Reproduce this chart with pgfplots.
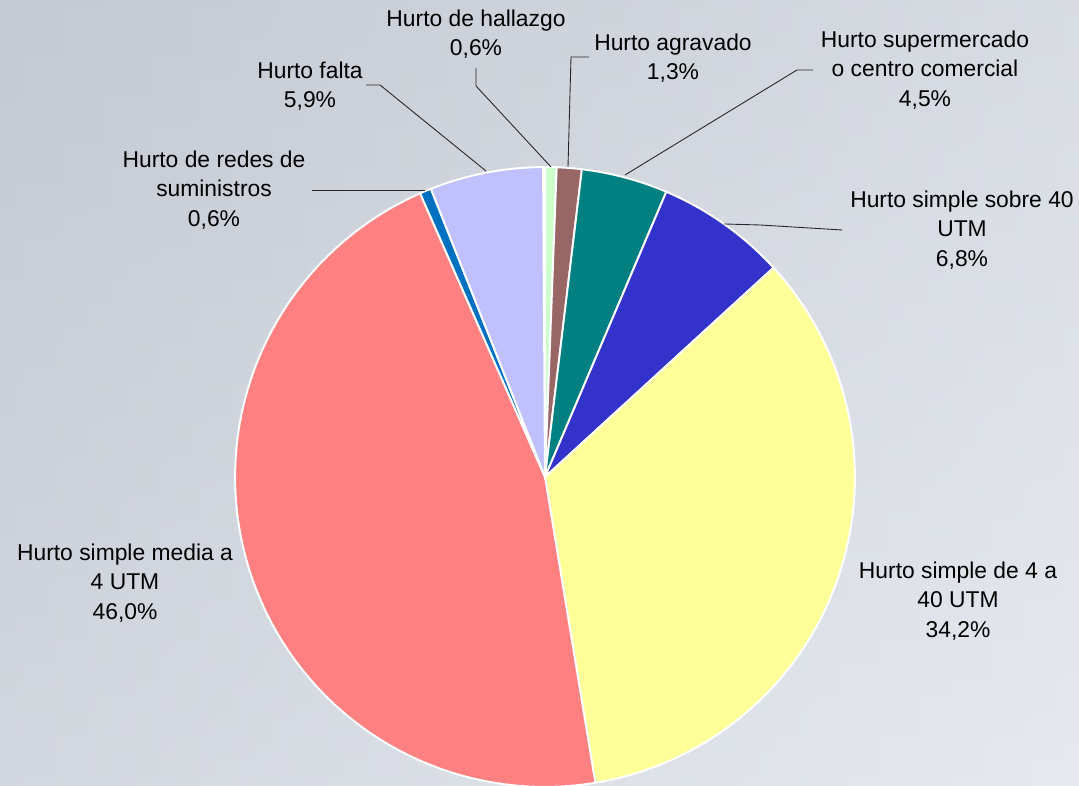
\documentclass[border=0pt]{standalone}
\usepackage{pgfplots}
\pgfplotsset{compat=1.18}
\usepackage{fontspec}
\setmainfont{Liberation Sans}

\definecolor{cHallazgo}{RGB}{204,255,204}
\definecolor{cAgravado}{RGB}{153,102,102}
\definecolor{cSuper}{RGB}{0,128,128}
\definecolor{cSobre}{RGB}{51,51,204}
\definecolor{cDe4}{RGB}{255,255,153}
\definecolor{cMedia}{RGB}{255,128,128}
\definecolor{cRedes}{RGB}{0,112,192}
\definecolor{cFalta}{RGB}{192,192,255}
\definecolor{skyL}{RGB}{200,205,214}
\definecolor{skyR}{RGB}{230,233,239}
\definecolor{skyT}{RGB}{190,195,204}

\newcommand{\lbl}{\fontsize{13}{16.8}\selectfont}

\begin{document}
\begin{tikzpicture}[x=0.02cm,y=0.02cm]
\path[use as bounding box] (0,0) rectangle (1079,786);
\clip (0,0) rectangle (1079,786);
% cloudy grey background
\shade[left color=skyL, right color=skyR] (0,0) rectangle (1079,786);
\shade[top color=skyT, bottom color=skyR, opacity=0.35] (0,0) rectangle (1079,786);
\coordinate (piecentre) at (545,309);

\begin{axis}[
  at={(piecentre)}, anchor=origin,
  x=6.2cm, y=6.2cm,
  xmin=-1, xmax=1, ymin=-1, ymax=1,
  hide axis, clip=false,
]
% slices clockwise from 12 o'clock, values in percent
\def\slbeg{90}
\pgfplotsforeachungrouped \pv/\pc in {0.6/cHallazgo, 1.3/cAgravado, 4.5/cSuper, 6.8/cSobre, 34.2/cDe4, 46.0/cMedia, 0.6/cRedes, 5.9/cFalta}{
  \pgfmathsetmacro\slend{\slbeg-3.6*\pv}
  \edef\slice{\noexpand\addplot[fill=\pc, draw=white, line width=1.1pt, data cs=polar, domain=\slend:\slbeg, samples=80] ({x},{1}) -- (axis cs:0,0) -- cycle;}
  \slice
  \let\slbeg\slend
}
\end{axis}

% leader lines
\begin{scope}[black!85, line width=0.5pt]
\draw (366,701) -- (380,701) -- (486,615);
\draw (476,718) -- (476,700) -- (551,619);
\draw (589,729) -- (571,729) -- (568,619);
\draw (813,716) -- (797,716) -- (625,611);
\draw (842,556) -- (760,561) -- (724,562);
\draw (312,596) -- (425,596);
\end{scope}

% labels
\begin{scope}[font=\lbl, align=center, text=black]
\node at (476,752) {Hurto de hallazgo\\0,6\%};
\node at (673,728) {Hurto agravado\\1,3\%};
\node at (925,716) {Hurto supermercado\\o centro comercial\\4,5\%};
\node at (962,556) {Hurto simple sobre 40\\UTM\\6,8\%};
\node at (958,185) {Hurto simple de 4 a\\40 UTM\\34,2\%};
\node at (125,203) {Hurto simple media a\\4 UTM\\46,0\%};
\node at (214,596) {Hurto de redes de\\suministros\\0,6\%};
\node at (310,700) {Hurto falta\\5,9\%};
\end{scope}
\end{tikzpicture}
\end{document}
